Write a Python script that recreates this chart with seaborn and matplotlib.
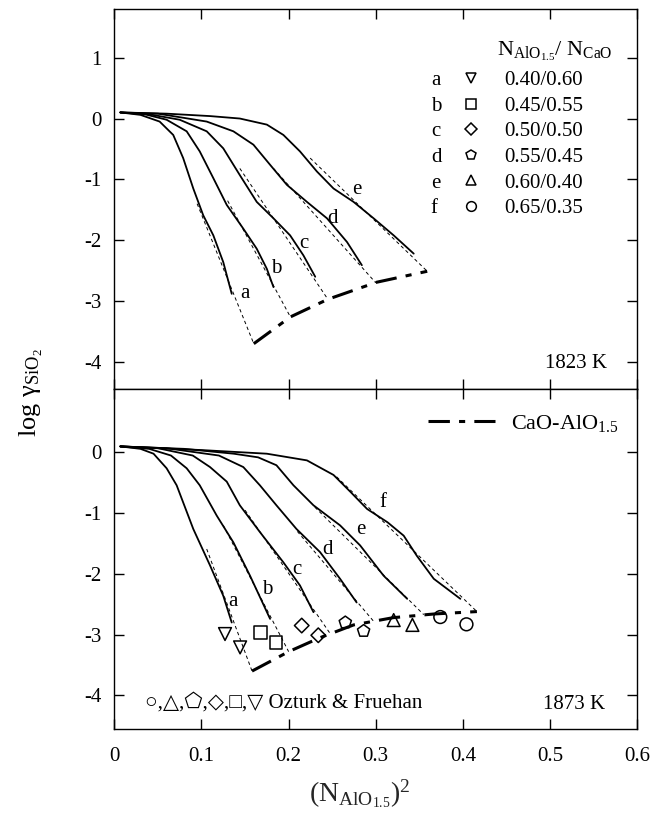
import matplotlib
matplotlib.use("Agg")
import matplotlib.pyplot as plt
from matplotlib.lines import Line2D
import numpy as np
import pandas as pd
import seaborn as sns

# ---- data ------------------------------------------------------------------
# x = (N_AlO1.5)^2, y = log gamma_SiO2
letters = ["a", "b", "c", "d", "e", "f"]
ratios = ["0.40/0.60", "0.45/0.55", "0.50/0.50", "0.55/0.45", "0.60/0.40", "0.65/0.35"]
markers = ["v", "s", "D", "p", "^", "o"]

# 1823 K, solid model curves
t_a_x = [0.007, 0.030, 0.052, 0.0676, 0.079, 0.0906, 0.102, 0.1136, 0.125, 0.1347]
t_a_y = [0.10, 0.06, -0.05, -0.27, -0.65, -1.15, -1.59, -1.92, -2.36, -2.88]
t_b_x = [0.007, 0.035, 0.060, 0.083, 0.098, 0.1136, 0.129, 0.148, 0.1634, 0.175, 0.1826]
t_b_y = [0.10, 0.07, -0.02, -0.21, -0.54, -0.98, -1.42, -1.81, -2.14, -2.47, -2.77]
t_c_x = [0.007, 0.040, 0.075, 0.106, 0.125, 0.144, 0.1634, 0.1826, 0.2017, 0.217, 0.2305]
t_c_y = [0.10, 0.07, -0.02, -0.21, -0.49, -0.93, -1.37, -1.64, -1.92, -2.25, -2.60]
t_d_x = [0.007, 0.050, 0.106, 0.1366, 0.1596, 0.1787, 0.198, 0.221, 0.244, 0.267, 0.284]
t_d_y = [0.10, 0.08, -0.05, -0.21, -0.43, -0.76, -1.09, -1.37, -1.64, -2.03, -2.41]
t_e_x = [0.007, 0.060, 0.110, 0.144, 0.175, 0.194, 0.213, 0.2324, 0.2515, 0.2745,
         0.2975, 0.3205, 0.3435]
t_e_y = [0.10, 0.08, 0.04, 0.0, -0.10, -0.27, -0.54, -0.87, -1.15, -1.37,
         -1.64, -1.92, -2.22]
# 1823 K, thin dashed extrapolations (start, end on binary)
t_dash_x = [[0.095, 0.160], [0.130, 0.202], [0.144, 0.245], [0.1826, 0.300], [0.2247, 0.359]]
t_dash_y = [[-1.40, -3.70], [-1.35, -3.26], [-0.82, -2.97], [-0.82, -2.70], [-0.65, -2.51]]
# 1823 K, CaO-AlO1.5 binary
t_bin_x = [0.160, 0.202, 0.245, 0.301, 0.359]
t_bin_y = [-3.70, -3.26, -2.97, -2.69, -2.51]
t_lab_x = [0.150, 0.186, 0.218, 0.250, 0.278]
t_lab_y = [-2.88, -2.47, -2.06, -1.65, -1.16]

# 1873 K, solid model curves
b_a_x = [0.007, 0.030, 0.045, 0.060, 0.0715, 0.0906, 0.1098, 0.125, 0.1347]
b_a_y = [0.10, 0.06, -0.02, -0.26, -0.54, -1.26, -1.86, -2.36, -2.80]
b_b_x = [0.007, 0.040, 0.065, 0.083, 0.098, 0.1175, 0.1366, 0.1557, 0.1787]
b_b_y = [0.10, 0.06, -0.05, -0.26, -0.54, -1.04, -1.48, -2.03, -2.74]
b_c_x = [0.007, 0.050, 0.090, 0.1098, 0.129, 0.144, 0.167, 0.194, 0.213, 0.2285]
b_c_y = [0.10, 0.07, -0.05, -0.24, -0.48, -0.87, -1.31, -1.81, -2.19, -2.63]
b_d_x = [0.007, 0.060, 0.120, 0.148, 0.167, 0.186, 0.209, 0.236, 0.259, 0.278]
b_d_y = [0.10, 0.07, -0.05, -0.24, -0.54, -0.87, -1.26, -1.64, -2.08, -2.47]
b_e_x = [0.007, 0.080, 0.137, 0.165, 0.186, 0.2055, 0.2285, 0.259, 0.282, 0.309, 0.336]
b_e_y = [0.10, 0.06, -0.02, -0.08, -0.21, -0.54, -0.87, -1.20, -1.53, -2.03, -2.41]
b_f_x = [0.007, 0.100, 0.175, 0.221, 0.2515, 0.271, 0.290, 0.3135, 0.332, 0.347, 0.3665, 0.397]
b_f_y = [0.10, 0.04, -0.02, -0.13, -0.37, -0.65, -0.93, -1.15, -1.37, -1.70, -2.08, -2.41]
b_dash_x = [[0.106, 0.158], [0.125, 0.200], [0.150, 0.248], [0.210, 0.2975],
            [0.230, 0.355], [0.255, 0.416]]
b_dash_y = [[-1.59, -3.60], [-1.20, -3.28], [-0.95, -2.99], [-1.30, -2.78],
            [-0.90, -2.67], [-0.40, -2.62]]
b_bin_x = [0.158, 0.200, 0.236, 0.2745, 0.320, 0.3665, 0.416]
b_bin_y = [-3.60, -3.28, -3.05, -2.84, -2.72, -2.66, -2.62]
b_lab_x = [0.136, 0.175, 0.210, 0.2446, 0.283, 0.308]
b_lab_y = [-2.46, -2.26, -1.93, -1.59, -1.27, -0.83]

# Ozturk & Fruehan measurements, 1873 K (two points per composition)
oz_x = [[0.127, 0.1443], [0.168, 0.1856], [0.215, 0.234], [0.265, 0.286],
        [0.3205, 0.342], [0.374, 0.404]]
oz_y = [[-2.99, -3.21], [-2.96, -3.13], [-2.85, -3.01], [-2.80, -2.94],
        [-2.76, -2.84], [-2.71, -2.83]]


def long_df(xs, ys, names):
    rows = []
    for x, y, n in zip(xs, ys, names):
        rows.append(pd.DataFrame({"x": x, "y": y, "curve": n}))
    return pd.concat(rows, ignore_index=True)


sns.set_theme(style="ticks")
plt.rcParams["font.family"] = ["Liberation Serif", "DejaVu Sans"]
plt.rcParams["mathtext.fontset"] = "custom"
plt.rcParams["mathtext.rm"] = "Liberation Serif"
plt.rcParams["mathtext.it"] = "Liberation Serif:italic"
plt.rcParams["axes.unicode_minus"] = False
plt.rcParams["axes.linewidth"] = 1.0
plt.rcParams["axes.edgecolor"] = "black"
plt.rcParams["text.color"] = "black"

BIN_LS = (0, (7, 3, 2, 3))
FS = 15

fig, (ax1, ax2) = plt.subplots(2, 1, figsize=(6.57, 8.17), dpi=100, sharex=True,
                               gridspec_kw=dict(height_ratios=[381, 340], hspace=0))
fig.subplots_adjust(left=0.174, right=0.970, top=0.989, bottom=0.108)

top_solid = long_df([t_a_x, t_b_x, t_c_x, t_d_x, t_e_x],
                    [t_a_y, t_b_y, t_c_y, t_d_y, t_e_y], letters[:5])
bot_solid = long_df([b_a_x, b_b_x, b_c_x, b_d_x, b_e_x, b_f_x],
                    [b_a_y, b_b_y, b_c_y, b_d_y, b_e_y, b_f_y], letters)
top_dash = long_df(t_dash_x, t_dash_y, letters[:5])
bot_dash = long_df(b_dash_x, b_dash_y, letters)

for ax, solid, dash, bx, by in [(ax1, top_solid, top_dash, t_bin_x, t_bin_y),
                                (ax2, bot_solid, bot_dash, b_bin_x, b_bin_y)]:
    sns.lineplot(data=dash, x="x", y="y", units="curve", estimator=None, sort=False,
                 color="black", lw=0.7, linestyle=(0, (3.5, 3)), ax=ax)
    sns.lineplot(data=solid, x="x", y="y", units="curve", estimator=None, sort=False,
                 color="black", lw=1.3, ax=ax)
    ax.plot(bx, by, color="black", lw=2.2, linestyle=BIN_LS)

# curve letters
for lx, ly, l in zip(t_lab_x, t_lab_y, letters):
    ax1.text(lx, ly, l, fontsize=FS, ha="center", va="center")
for lx, ly, l in zip(b_lab_x, b_lab_y, letters):
    ax2.text(lx, ly, l, fontsize=FS, ha="center", va="center")

# measured points
for x, y, m in zip(oz_x, oz_y, markers):
    sns.scatterplot(x=x, y=y, marker=m, s=85 if m != "D" else 55, facecolor="none",
                    edgecolor="black", linewidth=1.1, ax=ax2, legend=False)

# top legend: letter | marker | ratio, with the header as plain text
blank = [Line2D([], [], linestyle="none") for _ in letters]
mk = [Line2D([], [], linestyle="none", marker=m, ms=7 if m != "D" else 6,
             mfc="none", mec="black", mew=1.1) for m in markers]
ax1.legend(blank + mk, letters + ratios, ncol=2, frameon=False, fontsize=FS,
           loc="upper right", bbox_to_anchor=(0.896, 0.838), borderpad=0,
           borderaxespad=0, handlelength=1.0, handletextpad=1.1,
           columnspacing=0.9, labelspacing=0.29)
ax1.text(0.572, 1.10, "N$_{\\mathrm{AlO}_{1.5}}$/ N$_{\\mathrm{CaO}}$", fontsize=FS + 1,
         ha="right", va="center")

ax2.legend([Line2D([], [], color="black", lw=2.2, linestyle=BIN_LS)],
           ["CaO-AlO$_{1.5}$"], frameon=False, fontsize=FS + 1, loc="upper right",
           bbox_to_anchor=(0.965, 0.93), borderpad=0, borderaxespad=0,
           handlelength=3.0, handletextpad=0.75)

ax1.text(0.565, -4.03, "1823 K", fontsize=FS, ha="right", va="center")
ax2.text(0.563, -4.15, "1873 K", fontsize=FS, ha="right", va="center")
ax2.text(0.035, -4.12, "○,△,⬠,◇,□,▽ Ozturk & Fruehan", fontsize=FS, ha="left",
         va="center")

ax1.set_xlim(0, 0.6)
ax1.set_ylim(-4.45, 1.8)
ax2.set_ylim(-4.55, 1.04)
ax1.set_yticks([-4, -3, -2, -1, 0, 1])
ax2.set_yticks([-4, -3, -2, -1, 0])
ax2.set_xticks([0, 0.1, 0.2, 0.3, 0.4, 0.5, 0.6])
ax2.set_xticklabels(["0", "0.1", "0.2", "0.3", "0.4", "0.5", "0.6"])
for ax in (ax1, ax2):
    ax.tick_params(direction="in", top=True, right=True, length=7, width=1.0,
                   labelsize=FS, pad=9, colors="black")
    ax.set_xlabel("")
    ax.set_ylabel("")
ax2.tick_params(axis="x", pad=13)
ax2.set_xlabel("(N$_{\\mathrm{AlO}_{1.5}}$)$^{2}$", fontsize=20, labelpad=9, x=0.47)
fig.text(0.048, 0.519, "log γ$_{\\mathrm{SiO}_{2}}$", rotation=90, fontsize=19,
         ha="center", va="center")

fig.savefig("out.png", dpi=100)
